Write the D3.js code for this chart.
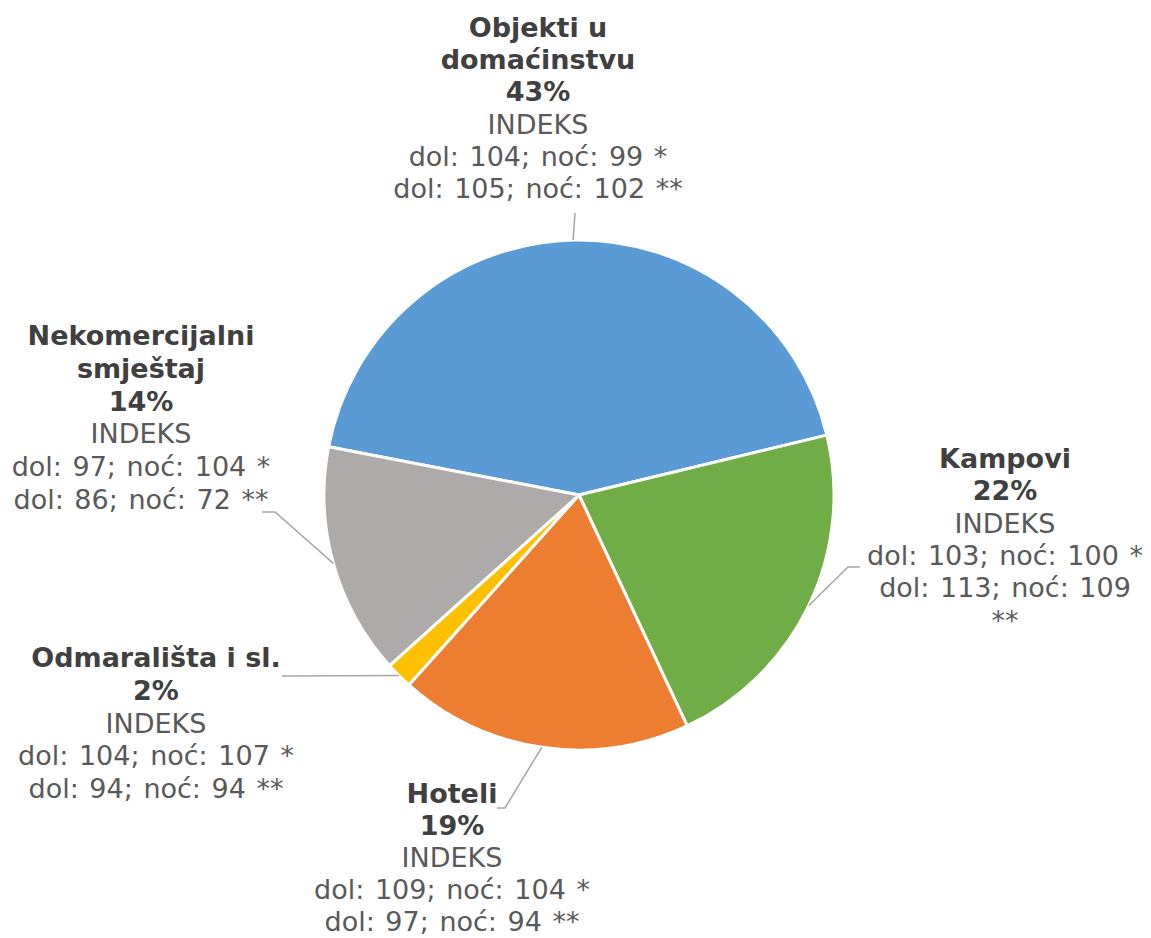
<!DOCTYPE html>
<meta charset="utf-8">
<style>
body {margin: 0; background: #fff;}
.lbl {font-family: "DejaVu Sans", Verdana, sans-serif; font-size: 27px; text-anchor: middle;}
.lbl .b {font-weight: bold; fill: #404040;}
.lbl .n {fill: #595959; word-spacing: 2px;}
.leader {fill: none; stroke: #a6a6a6; stroke-width: 1.5;}
</style>
<body>
<script src="https://d3js.org/d3.v7.min.js"></script>
<div id="pie"></div>
</body>
<script>
// data
var categories = ["Objekti u domaćinstvu", "Kampovi", "Hoteli", "Odmarališta i sl.", "Nekomercijalni smještaj"];
var shares = [43.2, 21.8, 18.6, 1.7, 14.7];
var shareLabels = ["43%", "22%", "19%", "2%", "14%"];
var nameLines = [["Objekti u", "domaćinstvu"], ["Kampovi"], ["Hoteli"], ["Odmarališta i sl."], ["Nekomercijalni", "smještaj"]];
var indexLines = [
  ["dol: 104; noć: 99 *", "dol: 105; noć: 102 **"],
  ["dol: 103; noć: 100 *", "dol: 113; noć: 109", "**"],
  ["dol: 109; noć: 104 *", "dol: 97; noć: 94 **"],
  ["dol: 104; noć: 107 *", "dol: 94; noć: 94 **"],
  ["dol: 97; noć: 104 *", "dol: 86; noć: 72 **"]
];
var colors = ["#5b9bd5", "#70ad47", "#ed7d31", "#ffc000", "#aeaaaa"];

// layout
var width = 1151, height = 938,
    cx = 579, cy = 495, radius = 255;
// label block: center x, first baseline y, line step, elbow point of the leader line
var labelPos = [
  {x: 538, y: 37, step: 32.2, elbow: [[575, 213]]},
  {x: 1005, y: 468, step: 32.3, elbow: [[848, 567], [860, 567]]},
  {x: 452, y: 803, step: 32.0, elbow: [[505, 808], [497, 808]]},
  {x: 156, y: 667, step: 32.8, elbow: [[282, 676]]},
  {x: 141, y: 345, step: 32.8, elbow: [[275, 512], [262, 512]]}
];

var svg = d3.select("#pie").append("svg")
    .attr("width", width)
    .attr("height", height);

var start = -79.1 * Math.PI / 180;
var pie = d3.pie().sort(null).value(function(d) { return d; })
    .startAngle(start).endAngle(start + 2 * Math.PI);
var arcs = pie(shares);
var arc = d3.arc().innerRadius(0).outerRadius(radius);

var g = svg.append("g").attr("transform", "translate(" + cx + "," + cy + ")");
g.selectAll("path.slice")
  .data(arcs)
  .enter().append("path")
  .attr("class", "slice")
  .attr("d", arc)
  .attr("fill", function(d, i) { return colors[i]; })
  .attr("stroke", "#fff")
  .attr("stroke-width", 3)
  .attr("stroke-linejoin", "round");

// leader lines
arcs.forEach(function(d, i) {
  var a = (d.startAngle + d.endAngle) / 2;
  var p0 = [cx + radius * Math.sin(a), cy - radius * Math.cos(a)];
  var pts = [p0].concat(labelPos[i].elbow);
  svg.append("path")
    .attr("class", "leader")
    .attr("d", d3.line()(pts));
});

// labels
categories.forEach(function(c, i) {
  var lines = [];
  nameLines[i].forEach(function(t) { lines.push({t: t, c: "b"}); });
  lines.push({t: shareLabels[i], c: "b"});
  lines.push({t: "INDEKS", c: "n"});
  indexLines[i].forEach(function(t) { lines.push({t: t, c: "n"}); });
  var t = svg.append("text").attr("class", "lbl");
  lines.forEach(function(l, k) {
    t.append("tspan")
      .attr("class", l.c)
      .attr("x", labelPos[i].x)
      .attr("y", labelPos[i].y + k * labelPos[i].step)
      .text(l.t);
  });
});
</script>
